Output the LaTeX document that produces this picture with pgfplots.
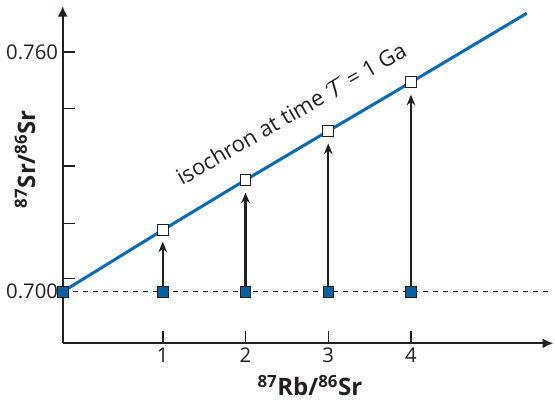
\documentclass[border=0pt]{standalone}
\usepackage{pgfplots}
\pgfplotsset{compat=1.18}
\usepackage{fontspec}
\setmainfont{Open Sans}
\usetikzlibrary{arrows.meta}
\definecolor{isoblue}{RGB}{10,108,178}
\definecolor{ink}{RGB}{35,31,32}
\definecolor{sqblue}{RGB}{8,96,160}
\begin{document}
\begin{tikzpicture}
\begin{axis}[name=ax, scale only axis, width=367.95pt, height=252.98pt,
  xmin=-0.21, xmax=5.72, ymin=0.68708, ymax=0.7715,
  axis lines=left,
  axis line style={ink, line width=1.4pt, -{Latex[length=8pt,width=7.5pt]}},
  tick align=inside, major tick length=9pt,
  tick style={ink, line width=1.1pt},
  xtick={1,2,3,4}, xticklabels={1,2,3,4},
  ytick={0.70325,0.71712,0.73146,0.74581,0.760},
  yticklabels={,,,,0.760},
  extra y ticks={0.700}, extra y tick labels={0.700},
  extra y tick style={major tick length=0pt},
  ticklabel style={font=\fontsize{15.2}{17}\selectfont, text=ink},
  xlabel={\textbf{\textsuperscript{87}Rb/\textsuperscript{86}Sr}},
  ylabel={\textbf{\textsuperscript{87}Sr/\textsuperscript{86}Sr}},
  label style={font=\fontsize{18}{20}\selectfont, text=ink},
  xlabel style={at={(axis description cs:0.504,0)}, anchor=center, yshift=-31.5pt},
  ylabel style={at={(axis description cs:-0.0768,0.546)}, anchor=center},
  clip=false,
]
% dashed initial ratio line
\addplot[ink, line width=0.9pt, dash pattern=on 4pt off 3.5pt] coordinates {(-0.21,0.700) (5.68,0.700)};
% growth arrows
\addplot[ink, line width=1.6pt, -{Stealth[length=8pt,width=6.5pt]}] coordinates {(1,0.70143) (1,0.71252)};
\addplot[ink, line width=1.6pt, -{Stealth[length=8pt,width=6.5pt]}] coordinates {(2,0.70143) (2,0.72483)};
\addplot[ink, line width=1.6pt, -{Stealth[length=8pt,width=6.5pt]}] coordinates {(3,0.70143) (3,0.73710)};
\addplot[ink, line width=1.6pt, -{Stealth[length=8pt,width=6.5pt]}] coordinates {(4,0.70143) (4,0.74929)};
% isochron
\addplot[isoblue, line width=2.3pt] coordinates {(-0.21,0.700) (1,0.71544) (2,0.72795) (3,0.74022) (4,0.75241) (5.40,0.76969)};
% initial points
\addplot[only marks, mark=square*, mark size=4pt, mark options={fill=sqblue, draw=ink, line width=0.6pt}] coordinates {(-0.21,0.700) (1,0.700) (2,0.700) (3,0.700) (4,0.700)};
% points on isochron
\addplot[only marks, mark=square*, mark size=4pt, mark options={fill=white, draw=ink, line width=0.8pt}] coordinates {(1,0.71544) (2,0.72795) (3,0.74022) (4,0.75241)};
\node[rotate=30, anchor=base, font=\fontsize{16.5}{18}\selectfont, text=ink] at (axis cs:2.60,0.7428) {isochron at time $\mathcal{T}$ = 1 Ga};
\end{axis}
\pgfresetboundingbox
\path[use as bounding box] ([xshift=-47pt, yshift=-42.5pt]ax.south west) rectangle ([xshift=1.3pt, yshift=4.5pt]ax.north east);
\end{tikzpicture}
\end{document}
